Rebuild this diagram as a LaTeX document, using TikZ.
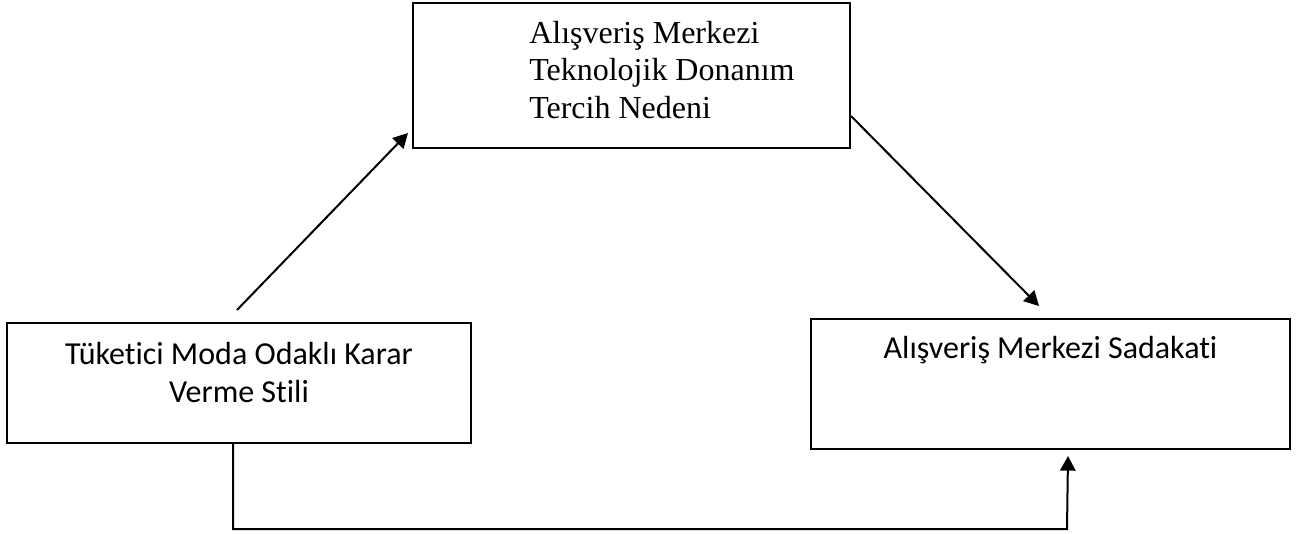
\documentclass[tikz,border=0pt]{standalone}
\usepackage{fontspec}
\setmainfont[Ligatures={NoCommon}]{Carlito}
\newfontfamily\timesfont{Liberation Serif}
\usetikzlibrary{arrows.meta,calc}
\begin{document}
\begin{tikzpicture}[x=0.75pt,y=-0.75pt,
  box/.style={draw,line width=1.5pt,inner sep=0pt},
  seriftext/.style={inner sep=0pt,align=left,font=\timesfont\fontsize{24}{28.1}\selectfont},
  sanstext/.style={inner sep=0pt,align=center,font=\fontsize{24}{27.8}\selectfont},
  arr/.style={line width=1.5pt,-{Triangle[length=11pt,width=11.5pt]}},
  conn/.style={line width=1.5pt}]
\useasboundingbox (0,0) rectangle (1303,534);
\fill[white] (0,0) rectangle (1303,534);
% boxes
\node[box,minimum width=327.75pt,minimum height=108.75pt] (top) at (631.5,75.5) {};
\node[seriftext,anchor=north west] (toptext) at (529,21) {Alışveriş Merkezi\\Teknolojik Donanım\\Tercih Nedeni};
\node[box,minimum width=348pt,minimum height=90pt] (left) at (239,383) {};
\node[sanstext,anchor=north] (lefttext) at (239,342.5) {Tüketici Moda Odaklı Karar\\Verme Stili};
\node[box,minimum width=359.25pt,minimum height=97.5pt] (right) at (1050.5,384) {};
\node[sanstext,anchor=base] (righttext) at (1050.5,359) {Alışveriş Merkezi Sadakati};
% connectors
\draw[arr] ($(left.north)+(-2,-12)$) -- ($(top.south west)+(-4,-16)$);
\draw[arr] ($(top.south east)+(0,-33)$) -- ($(right.north)+(-11.5,-12)$);
\draw[arr] ($(left.south)+(-6,0)$) -- ($(left.south)+(-6,85)$) -- ($(right.south)+(16.5,79)$) -- ($(right.south)+(17.5,6)$);
\end{tikzpicture}
\end{document}
